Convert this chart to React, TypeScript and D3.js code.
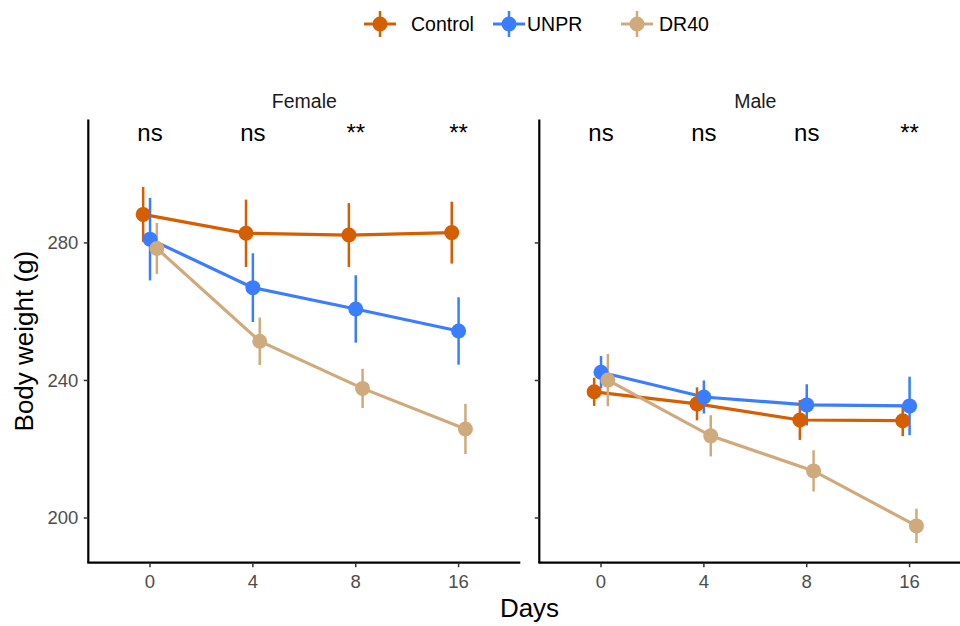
import React from "react";
import * as d3 from "d3";

const days = ["0", "4", "8", "16"];
const groups = ["Control", "UNPR", "DR40"];
const colors = ["#D55E00", "#3A7DFF", "#CFAA7C"];
const panels = ["Female", "Male"];

// mean and error (half-width) per panel, group, day
const femaleControl = [288.3, 282.8, 282.3, 283.0];
const femaleControlErr = [8.0, 9.8, 9.3, 9.0];
const femaleUNPR = [281.1, 267.0, 260.8, 254.4];
const femaleUNPRErr = [12.0, 10.0, 9.8, 9.8];
const femaleDR40 = [278.4, 251.4, 237.7, 225.9];
const femaleDR40Err = [7.4, 6.9, 5.7, 7.3];

const maleControl = [236.7, 233.2, 228.5, 228.3];
const maleControlErr = [4.1, 4.8, 5.8, 4.5];
const maleUNPR = [242.4, 235.2, 232.9, 232.6];
const maleUNPRErr = [4.7, 4.8, 6.0, 8.5];
const maleDR40 = [240.1, 223.9, 213.7, 197.7];
const maleDR40Err = [7.6, 6.0, 6.0, 5.0];

const femaleSig = ["ns", "ns", "**", "**"];
const maleSig = ["ns", "ns", "ns", "**"];
const yTicks = [200, 240, 280];

const panelData = [
  { means: [femaleControl, femaleUNPR, femaleDR40], errs: [femaleControlErr, femaleUNPRErr, femaleDR40Err], sig: femaleSig },
  { means: [maleControl, maleUNPR, maleDR40], errs: [maleControlErr, maleUNPRErr, maleDR40Err], sig: maleSig },
];

const W = 960;
const H = 626;
const top = 119.5;
const bottom = 562.7;
const panelLefts = [88.3, 539.3];
const panelWidth = 432;
const font = "'Liberation Sans', Arial, sans-serif";

export default function App() {
  const y = d3.scaleLinear().domain([187.0, 315.9]).range([bottom, top]);
  const dodge = 0.2;

  return (
    <svg width={W} height={H} style={{ position: "absolute", left: 0, top: 0, background: "#fff" }} fontFamily={font}>
      {/* legend */}
      {(() => {
        const items = [
          { x: 380, tx: 411 },
          { x: 509, tx: 527 },
          { x: 637, tx: 659 },
        ];
        return groups.map((g, i) => (
          <g key={g}>
            <line x1={items[i].x - 16} x2={items[i].x + 16} y1={24} y2={24} stroke={colors[i]} strokeWidth={3} />
            <line x1={items[i].x} x2={items[i].x} y1={11} y2={37} stroke={colors[i]} strokeWidth={2.5} />
            <circle cx={items[i].x} cy={24} r={7.5} fill={colors[i]} />
            <text x={items[i].tx} y={24} dy="0.35em" fontSize={19.5} fill="#000">{g}</text>
          </g>
        ));
      })()}

      {panels.map((p, pi) => {
        const left = panelLefts[pi];
        const x = d3.scaleLinear().domain([-0.6, 3.6]).range([left, left + panelWidth]);
        const pd = panelData[pi];
        const off = (gi: number) => (gi - 1) * (dodge / 3);
        return (
          <g key={p}>
            <text x={left + panelWidth / 2} y={101} dy="0.35em" textAnchor="middle" fontSize={19.5} fill="#1a1a1a">{p}</text>
            {/* axes */}
            <line x1={left} x2={left} y1={top} y2={bottom} stroke="#000" strokeWidth={2.2} />
            <line x1={left - 1} x2={left + panelWidth} y1={bottom} y2={bottom} stroke="#000" strokeWidth={2.2} />
            {yTicks.map((t) => (
              <g key={t}>
                <line x1={left - 4.5} x2={left} y1={y(t)} y2={y(t)} stroke="#333" strokeWidth={1.5} />
                {pi === 0 && (
                  <text x={left - 10} y={y(t)} dy="0.35em" textAnchor="end" fontSize={18.5} fill="#4d4d4d">{t}</text>
                )}
              </g>
            ))}
            {days.map((d, di) => (
              <g key={d}>
                <line x1={x(di)} x2={x(di)} y1={bottom} y2={bottom + 4.5} stroke="#333" strokeWidth={1.5} />
                <text x={x(di)} y={bottom + 19} dy="0.35em" textAnchor="middle" fontSize={18.5} fill="#4d4d4d">{d}</text>
              </g>
            ))}
            {/* significance */}
            {pd.sig.map((s, di) => (
              <text key={di} x={x(di)} y={141} textAnchor="middle" fontSize={24} fill="#000">{s}</text>
            ))}
            {/* lines */}
            {groups.map((g, gi) => {
              const line = d3
                .line<number>()
                .x((_, di) => x(di + off(gi)))
                .y((v) => y(v));
              return (
                <path key={g} d={line(pd.means[gi]) || ""} fill="none" stroke={colors[gi]} strokeWidth={3.2} />
              );
            })}
            {/* error bars */}
            {groups.map((g, gi) => (
              <g key={g}>
                {pd.means[gi].map((v, di) => (
                  <line
                    key={di}
                    x1={x(di + off(gi))}
                    x2={x(di + off(gi))}
                    y1={y(v - pd.errs[gi][di])}
                    y2={y(v + pd.errs[gi][di])}
                    stroke={colors[gi]}
                    strokeWidth={2.5}
                  />
                ))}
              </g>
            ))}
            {/* points */}
            {groups.map((g, gi) => (
              <g key={g}>
                {pd.means[gi].map((v, di) => (
                  <circle key={di} cx={x(di + off(gi))} cy={y(v)} r={7.5} fill={colors[gi]} />
                ))}
              </g>
            ))}
          </g>
        );
      })}

      <text x={529.5} y={608} dy="0.35em" textAnchor="middle" fontSize={26} fill="#000">Days</text>
      <text
        transform={`translate(24, ${(top + bottom) / 2}) rotate(-90)`}
        dy="0.35em"
        textAnchor="middle"
        fontSize={26}
        fill="#000"
      >
        Body weight (g)
      </text>
    </svg>
  );
}
